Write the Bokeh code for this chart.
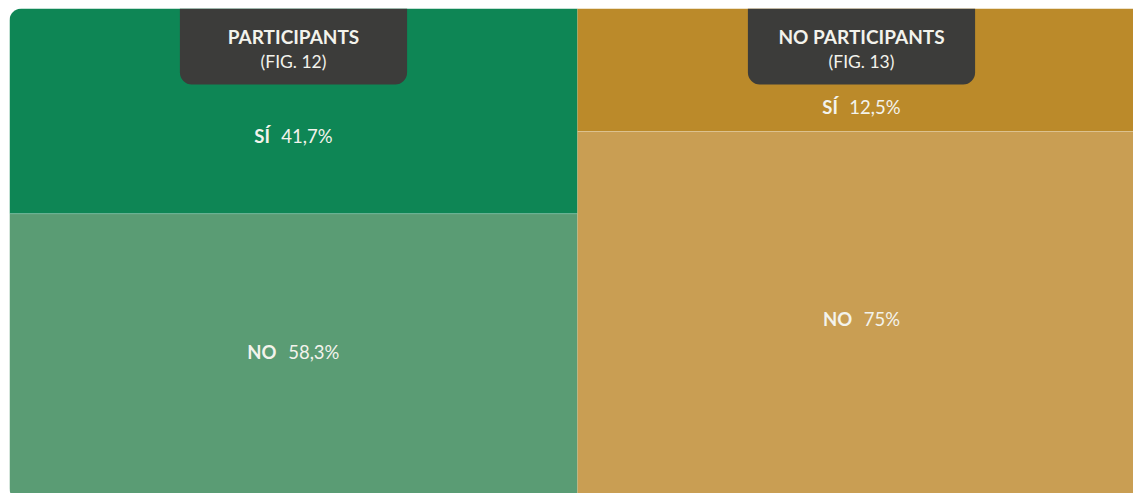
from bokeh.plotting import figure
from bokeh.models import Range1d
from bokeh.core.properties import value
from bokeh.embed import file_html
from bokeh.resources import INLINE

# ---- data ----
groups = ["PARTICIPANTS", "NO PARTICIPANTS"]
fig_labels = ["(FIG. 12)", "(FIG. 13)"]
si_values = [41.7, 12.5]
no_values = [58.3, 75.0]
si_text = ["41,7%", "12,5%"]
no_text = ["58,3%", "75%"]
cat_yes = "SÍ"
cat_no = "NO"

# ---- style ----
top_colors = ["#0E8655", "#BB8A2A"]
bottom_colors = ["#5A9C74", "#C99E53"]
tab_color = "#3C3C3A"
txt_color = "#F3F3EC"
FONT = "Lato"
col_px = 568.0
plot_w_px = 1124.0
plot_h_px = 485.0
full_h_px = 492.0

p = figure(width=1133, height=493, output_backend="svg", toolbar_location=None,
           x_range=Range1d(0, plot_w_px / col_px),
           y_range=Range1d(100 - plot_h_px / full_h_px * 100, 100),
           min_border_left=9, min_border_top=8, min_border_right=0, min_border_bottom=0)
p.axis.visible = False
p.grid.visible = False
p.outline_line_color = None
p.background_fill_color = "white"
p.border_fill_color = "white"

BOLD_W = {"S": 0.52, "Í": 0.29, "N": 0.76, "O": 0.80}
REG_W = {",": 0.24, "%": 0.80, ".": 0.24}


def width(s, size, table, default):
    return sum(table.get(c, default) for c in s) * size


LSIZE = 18.5
for i, g in enumerate(groups):
    x0, x1 = i, i + 1
    cx = i + 0.5
    no_top = no_values[i]
    # bottom block (NO)
    p.quad(left=[x0], right=[x1], bottom=[0], top=[no_top], fill_color=bottom_colors[i],
           line_color=None, border_radius=(0, 0, 0, 12) if i == 0 else 0)
    # top block (SÍ)
    p.quad(left=[x0], right=[x1], bottom=[no_top], top=[100], fill_color=top_colors[i],
           line_color=None, border_radius=(12, 0, 0, 0) if i == 0 else 0)
    # separator
    p.segment(x0=[x0], x1=[x1], y0=[no_top], y1=[no_top], line_color="white", line_alpha=0.25, line_width=1)

    # labels
    for cat, txt, ymid, yoff in [(cat_yes, si_text[i], (no_top + 100) / 2, [25, 37][i]),
                                 (cat_no, no_text[i], no_top / 2, [-5, 3][i])]:
        wb = width(cat, LSIZE, BOLD_W, 0.6)
        wv = width(txt, LSIZE, REG_W, 0.58)
        gap = 12
        total = wb + gap + wv
        left = -total / 2
        p.text(x=[cx], y=[ymid], text=[cat], x_offset=left, y_offset=yoff,
               text_font=value(FONT), text_font_style="bold", text_font_size=f"{LSIZE}px",
               text_color=txt_color, text_align="left", text_baseline="middle")
        p.text(x=[cx], y=[ymid], text=[txt], x_offset=left + wb + gap, y_offset=yoff,
               text_font=value(FONT), text_font_size=f"{LSIZE}px",
               text_color=txt_color, text_align="left", text_baseline="middle")

    # tab
    tab_bottom = 100 - 76 / full_h_px * 100
    p.quad(left=[cx - 0.2], right=[cx + 0.2], bottom=[tab_bottom], top=[100],
           fill_color=tab_color, line_color=None, border_radius=(0, 0, 12, 12))
    p.text(x=[cx], y=[100], text=[g], y_offset=28, text_font=value(FONT), text_font_style="bold",
           text_font_size="19px", text_color=txt_color, text_align="center", text_baseline="middle")
    p.text(x=[cx], y=[100], text=[fig_labels[i]], y_offset=53, text_font=value(FONT),
           text_font_size="17.5px", text_color=txt_color, text_align="center", text_baseline="middle")

open("out.html", "w").write(file_html(p, INLINE))
